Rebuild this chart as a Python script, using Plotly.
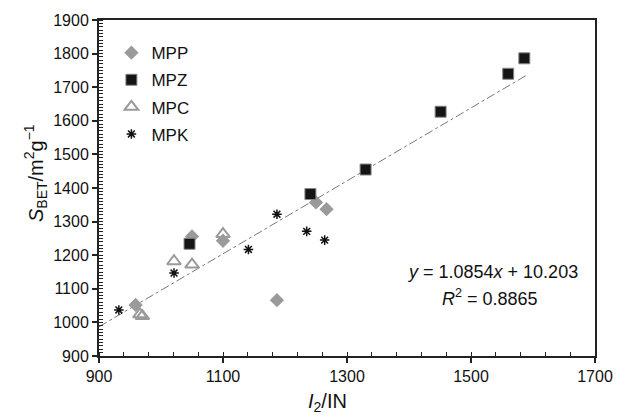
import plotly.graph_objects as go

# Data
mpp_x = [959, 1050, 1100, 1187, 1250, 1267]
mpp_y = [1052, 1256, 1243, 1066, 1357, 1337]

mpz_x = [1046, 1241, 1330, 1451, 1560, 1586]
mpz_y = [1234, 1382, 1455, 1627, 1740, 1786]

mpc_x = [966, 970, 1021, 1050, 1100]
mpc_y = [1024, 1019, 1182, 1172, 1263]

mpk_x = [932, 1021, 1141, 1187, 1235, 1264]
mpk_y = [1037, 1147, 1217, 1322, 1271, 1245]

fit_slope = 1.0854
fit_intercept = 10.203
fit_r2 = 0.8865
fit_x = [900, 1590]
fit_y = [fit_slope * v + fit_intercept for v in fit_x]

x_ticks = [900, 1100, 1300, 1500, 1700]
y_ticks = [900, 1000, 1100, 1200, 1300, 1400, 1500, 1600, 1700, 1800, 1900]

FONT = "Liberation Sans, Arial, sans-serif"

fig = go.Figure()

fig.add_trace(go.Scatter(x=fit_x, y=fit_y, mode="lines",
                         line=dict(color="#777777", width=1, dash="dashdot"),
                         showlegend=False, hoverinfo="skip"))

fig.add_trace(go.Scatter(x=mpp_x, y=mpp_y, mode="markers", name="MPP", legendgroup="a",
                         marker=dict(symbol="diamond", size=11, color="#9a9a9a",
                                     line=dict(width=0))))
fig.add_trace(go.Scatter(x=mpz_x, y=mpz_y, mode="markers", name="MPZ", legendgroup="b",
                         marker=dict(symbol="square", size=11, color="#151515",
                                     line=dict(width=1, color="#888888"))))
fig.add_trace(go.Scatter(x=mpc_x, y=mpc_y, mode="markers", name="MPC", legendgroup="c",
                         marker=dict(symbol="triangle-up-open", size=12, color="#9a9a9a",
                                     line=dict(width=2, color="#9a9a9a"))))
fig.add_trace(go.Scatter(x=mpk_x, y=mpk_y, mode="markers", name="MPK", legendgroup="d",
                         marker=dict(symbol="asterisk-open", size=8, color="#111111",
                                     line=dict(width=1.5, color="#111111"))))

fig.add_annotation(x=1535, y=1150, xref="x", yref="y",
                   text=f"<i>y</i> = {fit_slope}<i>x</i> + {fit_intercept}",
                   showarrow=False, font=dict(size=18, color="#111111", family=FONT))
fig.add_annotation(x=1530, y=1073, xref="x", yref="y",
                   text=f"<i>R</i><sup>2</sup> = {fit_r2}",
                   showarrow=False, font=dict(size=18, color="#111111", family=FONT))

# Axis titles (placed as annotations to match the offset positions)
fig.add_annotation(x=-0.16, y=0.545, xref="paper", yref="paper",
                   text="<i>S</i><sub>BET</sub>/m<sup>2</sup>g<sup>\u22121</sup>",
                   textangle=-90, showarrow=False,
                   font=dict(size=20, color="#111111", family=FONT))
fig.add_annotation(x=0.46, y=-0.183, xref="paper", yref="paper",
                   yanchor="bottom", text="<i>I</i><sub>2</sub>/IN", showarrow=False,
                   font=dict(size=20, color="#111111", family=FONT))

fig.update_layout(
    width=625, height=418,
    margin=dict(l=99, r=21, t=17, b=62),
    paper_bgcolor="white", plot_bgcolor="white",
    font=dict(family=FONT, size=16, color="#111111"),
    showlegend=True,
    legend=dict(x=0.025, y=0.955, xanchor="left", yanchor="top",
                font=dict(size=17, color="#111111"),
                bgcolor="rgba(0,0,0,0)", borderwidth=0,
                tracegroupgap=2, traceorder="grouped"),
)

fig.update_xaxes(range=[900, 1700], tickvals=x_ticks, ticktext=[str(v) for v in x_ticks],
                 showgrid=False, zeroline=False,
                 showline=True, linecolor="#222222", linewidth=2, mirror=True,
                 ticks="outside", ticklen=5, tickwidth=1.5, tickcolor="#222222",
                 minor=dict(dtick=40, tick0=900, ticks="inside", ticklen=4,
                            tickwidth=1.2, tickcolor="#222222", showgrid=False),
                 tickfont=dict(size=16))

fig.update_yaxes(range=[900, 1900], tickvals=y_ticks, ticktext=[str(v) for v in y_ticks],
                 showgrid=False, zeroline=False,
                 showline=True, linecolor="#222222", linewidth=2, mirror=True,
                 ticks="outside", ticklen=5, tickwidth=1.5, tickcolor="#222222",
                 minor=dict(dtick=10, tick0=900, ticks="inside", ticklen=4,
                            tickwidth=1, tickcolor="#222222", showgrid=False),
                 tickfont=dict(size=16))

fig.write_html("out.html")
